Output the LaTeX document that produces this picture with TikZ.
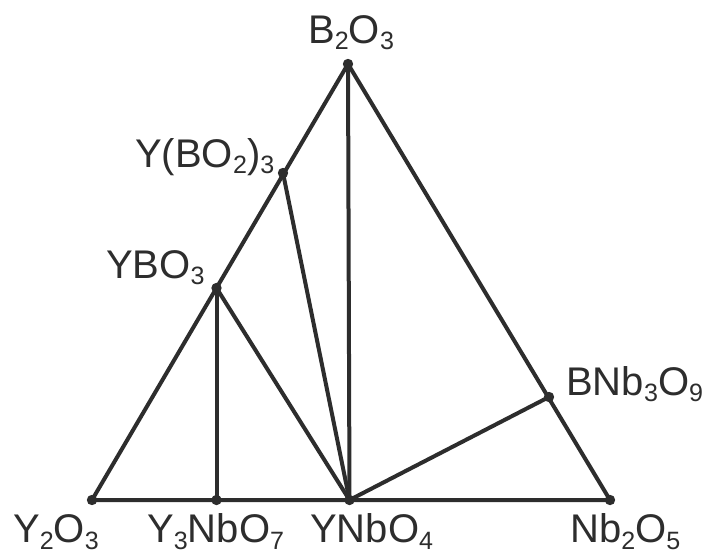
\documentclass[tikz,border=0pt]{standalone}
\usepackage{fontspec}
\setmainfont{Liberation Sans}
\definecolor{ink}{RGB}{45,45,45}
\newcommand\sbs[1]{\raisebox{-5.2pt}{\fontsize{18.8}{19}\selectfont #1}}
\begin{document}
\begin{tikzpicture}[x=0.75pt,y=-0.75pt,
  edge/.style={draw=ink,line width=3pt,line cap=round,line join=round},
  lbl/.style={anchor=base west,inner sep=0pt,text=ink,font=\fontsize{30}{36}\selectfont},
  dotp/.style={fill=ink}]
\useasboundingbox (0,0) rectangle (704,557);
\coordinate (B) at (348,64);
\coordinate (Y) at (92,500);
\coordinate (N) at (610,500);
\coordinate (YB3) at (283,173);
\coordinate (YB) at (216.5,288);
\coordinate (Y3N) at (216.5,500);
\coordinate (YN) at (349.5,500);
\coordinate (BN) at (549,397);
\draw[edge] (Y) -- (B) -- (N) -- cycle;
\draw[edge] (B) -- (YN);
\draw[edge] (YB3) -- (YN);
\draw[edge] (YB) -- (YN);
\draw[edge] (YB) -- (Y3N);
\draw[edge] (BN) -- (YN);
\foreach \p in {B,Y,N,YB3,YB,Y3N,YN,BN} \fill[dotp] (\p) circle (5.2);
\node[lbl] (lB) at (308,43) {B\sbs{2}O\sbs{3}};
\node[lbl] (lYB3) at (135,167) {Y(BO\sbs{2})\sbs{3}};
\node[lbl] (lYB) at (106,278) {YBO\sbs{3}};
\node[lbl] (lBN) at (566,395) {BNb\sbs{3}O\sbs{9}};
\node[lbl] (lY) at (13,542.5) {Y\sbs{2}O\sbs{3}};
\node[lbl] (lY3N) at (147,542.5) {Y\sbs{3}NbO\sbs{7}};
\node[lbl] (lYN) at (310,542.5) {YNbO\sbs{4}};
\node[lbl] (lN) at (570,542.5) {Nb\sbs{2}O\sbs{5}};
\end{tikzpicture}
\end{document}
